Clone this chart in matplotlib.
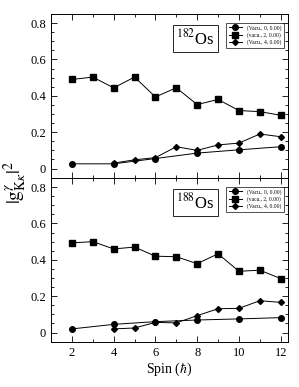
import matplotlib
matplotlib.use("Agg")
import matplotlib.pyplot as plt
from matplotlib.ticker import MultipleLocator

plt.rcParams['font.family'] = ['Liberation Serif', 'DejaVu Serif']
plt.rcParams['mathtext.fontset'] = 'stix'

labels = ["(Vacu., 0, 0.00)", "(vacu., 2, 0.00)", "(Vacu., 4, 0.00)"]
nuclei = ["182", "188"]

spin_k0 = [2, 4, 6, 8, 10, 12]
spin_k2 = [2, 3, 4, 5, 6, 7, 8, 9, 10, 11, 12]
spin_k4 = [4, 5, 6, 7, 8, 9, 10, 11, 12]

os182_k0 = [0.026, 0.026, 0.055, 0.085, 0.103, 0.12]
os182_k2 = [0.49, 0.503, 0.444, 0.503, 0.394, 0.444, 0.352, 0.38, 0.319, 0.313, 0.293]
os182_k4 = [0.03, 0.048, 0.06, 0.12, 0.10, 0.13, 0.14, 0.19, 0.175]

os188_k0 = [0.02, 0.045, 0.06, 0.069, 0.075, 0.082]
os188_k2 = [0.493, 0.50, 0.46, 0.47, 0.42, 0.417, 0.379, 0.433, 0.337, 0.343, 0.297]
os188_k4 = [0.02, 0.025, 0.056, 0.053, 0.093, 0.131, 0.133, 0.175, 0.166]

data = [(os182_k0, os182_k2, os182_k4), (os188_k0, os188_k2, os188_k4)]

fig = plt.figure(figsize=(2.99, 3.87), dpi=100)
ax1 = fig.add_axes([51/299, 1-178/387, 237/299, 164/387])
ax2 = fig.add_axes([51/299, 1-342/387, 237/299, 164/387], sharex=ax1)

for ax, (k0, k2, k4), nuc in zip([ax1, ax2], data, nuclei):
    ax.plot(spin_k0, k0, '-o', color='black', lw=0.7, ms=4, label=labels[0])
    ax.plot(spin_k2, k2, '-s', color='black', lw=0.7, ms=4, label=labels[1])
    ax.plot(spin_k4, k4, '-D', color='black', lw=0.7, ms=3, label=labels[2])
    ax.set_xlim(1.0, 12.35)
    ax.set_ylim(-0.052, 0.85)
    ax.yaxis.set_major_locator(MultipleLocator(0.2))
    ax.yaxis.set_minor_locator(MultipleLocator(0.05))
    ax.xaxis.set_major_locator(MultipleLocator(2))
    ax.xaxis.set_minor_locator(MultipleLocator(1))
    ax.tick_params(which='both', direction='in', top=True, right=True, labelsize=9, width=0.6)
    ax.tick_params(which='major', length=4)
    ax.tick_params(which='minor', length=2)
    ax.set_yticks([0, 0.2, 0.4, 0.6, 0.8])
    ax.set_yticklabels(['0', '0.2', '0.4', '0.6', '0.8'])
    for s in ax.spines.values():
        s.set_linewidth(0.7)
    ax.text(0.61, 0.85, r'$^{%s}$Os' % nuc, transform=ax.transAxes, fontsize=12,
            ha='center', va='center',
            bbox=dict(boxstyle='square,pad=0.22', fc='white', ec='black', lw=0.6))
    leg = ax.legend(loc='upper right', fontsize=4, frameon=True, fancybox=False,
                    edgecolor='black', handlelength=2.5, borderpad=0.4,
                    labelspacing=0.3, bbox_to_anchor=(0.993, 0.965))
    leg.get_frame().set_linewidth(0.6)

ax1.tick_params(labelbottom=False)
ax2.set_xlabel(r'Spin ($\hbar$)', fontsize=10, labelpad=1)
fig.text(0.05, 1-182/387, r'$|\mathrm{g}^{\gamma}_{\mathrm{K}\kappa}|^{2}$', rotation=90,
         fontsize=14, ha='center', va='center')

fig.savefig('out.png', dpi=100)
